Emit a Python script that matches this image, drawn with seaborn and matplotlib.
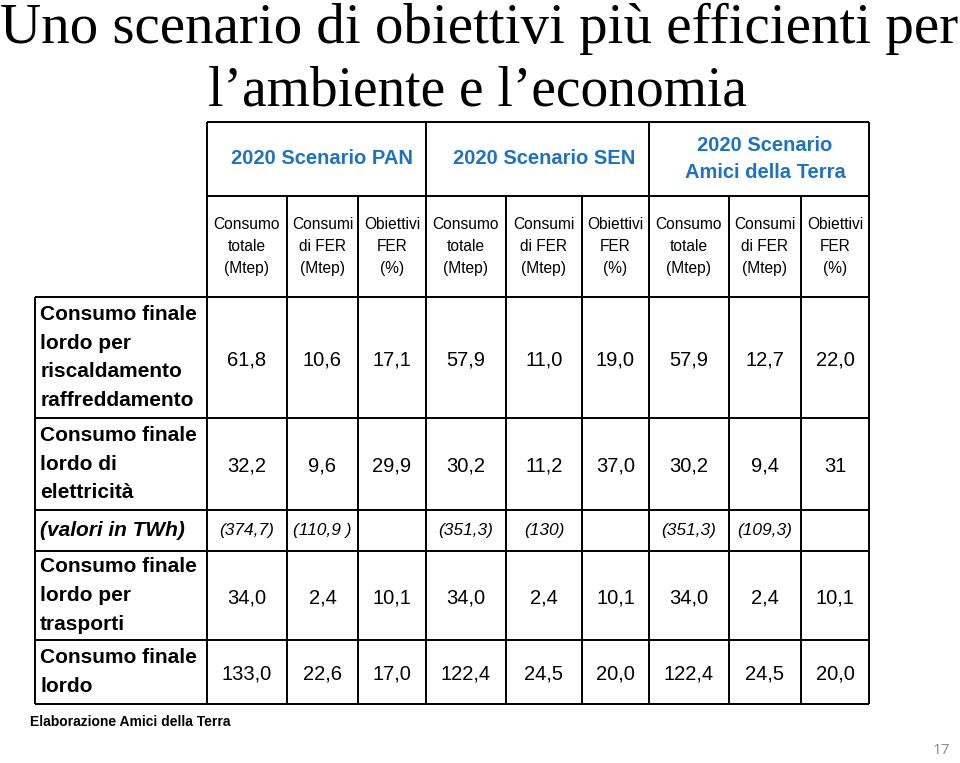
import numpy as np
import pandas as pd
import matplotlib
matplotlib.use("Agg")
import matplotlib.pyplot as plt
from matplotlib.colors import ListedColormap
import seaborn as sns

# ---------------- data ----------------
title_lines = ["Uno scenario di obiettivi più efficienti per", "l’ambiente e l’economia"]
scenarios = ["2020 Scenario PAN", "2020 Scenario SEN", "2020 Scenario\nAmici della Terra"]
measures = ["Consumo\ntotale\n(Mtep)", "Consumi\ndi FER\n(Mtep)", "Obiettivi\nFER\n(%)"]
row_labels = ["Consumo finale\nlordo per\nriscaldamento\nraffreddamento",
              "Consumo finale\nlordo di\nelettricità",
              "(valori in TWh)",
              "Consumo finale\nlordo per\ntrasporti",
              "Consumo finale\nlordo"]
riscaldamento = ["61,8", "10,6", "17,1", "57,9", "11,0", "19,0", "57,9", "12,7", "22,0"]
elettricita = ["32,2", "9,6", "29,9", "30,2", "11,2", "37,0", "30,2", "9,4", "31"]
elettricita_twh = ["(374,7)", "(110,9 )", "", "(351,3)", "(130)", "", "(351,3)", "(109,3)", ""]
trasporti = ["34,0", "2,4", "10,1", "34,0", "2,4", "10,1", "34,0", "2,4", "10,1"]
totale = ["133,0", "22,6", "17,0", "122,4", "24,5", "20,0", "122,4", "24,5", "20,0"]
source_note = "Elaborazione Amici della Terra"
page_number = "17"

# ---------------- layout / style ----------------
W, H, DPI = 960, 763, 100
col_edges = [35, 207, 287, 358, 426, 506, 582, 649, 729, 801, 869]
row_edges = [122, 196, 297, 418, 510, 551, 640, 704]
BLUE = "#1f72bf"
LW = 1.4

sns.set_theme(style="white")
plt.rcParams["font.family"] = ["Liberation Sans", "DejaVu Sans"]

fig = plt.figure(figsize=(W / DPI, H / DPI), dpi=DPI)
fig.patch.set_facecolor("white")

# background axes in pixel coordinates for title and notes
bg = fig.add_axes([0, 0, 1, 1])
bg.set_xlim(0, W)
bg.set_ylim(H, 0)
bg.axis("off")

bg.text(479, 43, title_lines[0], ha="center", va="baseline",
        family=["Liberation Serif"], fontsize=41, color="black")
bg.text(478, 106, title_lines[1], ha="center", va="baseline",
        family=["Liberation Serif"], fontsize=40, color="black")
bg.text(30, 722, source_note, ha="left", va="center", fontsize=10, fontweight="bold", color="black")
bg.text(941, 750, page_number, ha="center", va="center", family=["Open Sans"], fontsize=11, color="#8a8a8a")

# table axes
ax = fig.add_axes([col_edges[0] / W, 1 - row_edges[-1] / H,
                   (col_edges[-1] - col_edges[0]) / W, (row_edges[-1] - row_edges[0]) / H])

n_rows, n_cols = len(row_edges) - 1, len(col_edges) - 1
numeric_rows = {2: riscaldamento, 3: elettricita, 5: trasporti, 6: totale}
vals = np.full((n_rows, n_cols), np.nan)
annot = np.full((n_rows, n_cols), "", dtype=object)
for r, row in numeric_rows.items():
    for j, s in enumerate(row):
        vals[r, j + 1] = float(s.replace(",", "."))
        annot[r, j + 1] = s
df = pd.DataFrame(vals)

sns.heatmap(df, ax=ax, cmap=ListedColormap(["white"]), vmin=0, vmax=200, cbar=False,
            annot=annot, fmt="", annot_kws=dict(size=14.5, color="black", va="center_baseline"),
            xticklabels=False, yticklabels=False, linewidths=0)


def piecewise(src, dst):
    src = np.asarray(src, float)
    dst = np.asarray(dst, float)
    s0 = (dst[1] - dst[0]) / (src[1] - src[0])
    s1 = (dst[-1] - dst[-2]) / (src[-1] - src[-2])

    def f(v):
        v = np.asarray(v, float)
        out = np.interp(v, src, dst)
        out = np.where(v < src[0], dst[0] + (v - src[0]) * s0, out)
        out = np.where(v > src[-1], dst[-1] + (v - src[-1]) * s1, out)
        return out
    return f


cidx = np.arange(n_cols + 1)
ridx = np.arange(n_rows + 1)
ax.set_xscale("function", functions=(piecewise(cidx, col_edges), piecewise(col_edges, cidx)))
ax.set_yscale("function", functions=(piecewise(ridx, row_edges), piecewise(row_edges, ridx)))
ax.set_xlim(0, n_cols)
ax.set_ylim(n_rows, 0)
ax.set_xticks([])
ax.set_yticks([])
ax.axis("off")

# borders
kw = dict(colors="black", linewidth=LW, clip_on=False)
ax.hlines([0, 1], 1, n_cols, **kw)
ax.hlines(list(range(2, n_rows + 1)), 0, n_cols, **kw)
ax.vlines(0, 2, n_rows, **kw)
ax.vlines([1, 4, 7, 10], 0, n_rows, **kw)
ax.vlines([2, 3, 5, 6, 8, 9], 1, n_rows, **kw)

# header texts
for g, name in enumerate(scenarios):
    ax.text(1 + 3 * g + 1.5, 0.5, name, ha="center", va="center", fontsize=14.5,
            fontweight="bold", color=BLUE, linespacing=1.55)
    for m, meas in enumerate(measures):
        ax.text(1 + 3 * g + m + 0.5, 1.5, meas, ha="center", va="center", fontsize=11.2,
                color="black", linespacing=1.55)

# row labels
for i, lab in enumerate(row_labels):
    r = i + 2
    style = "italic" if r == 4 else "normal"
    ax.text(0.03, r + 0.5, lab, ha="left", va="center", fontsize=15, fontweight="bold",
            fontstyle=style, color="black", linespacing=1.65)

# TWh row
for j, s in enumerate(elettricita_twh):
    if s:
        ax.text(j + 1.5, 4.5, s, ha="center", va="center", fontsize=12.5, fontstyle="italic", color="black")

fig.savefig("out.png", dpi=DPI, facecolor="white")
